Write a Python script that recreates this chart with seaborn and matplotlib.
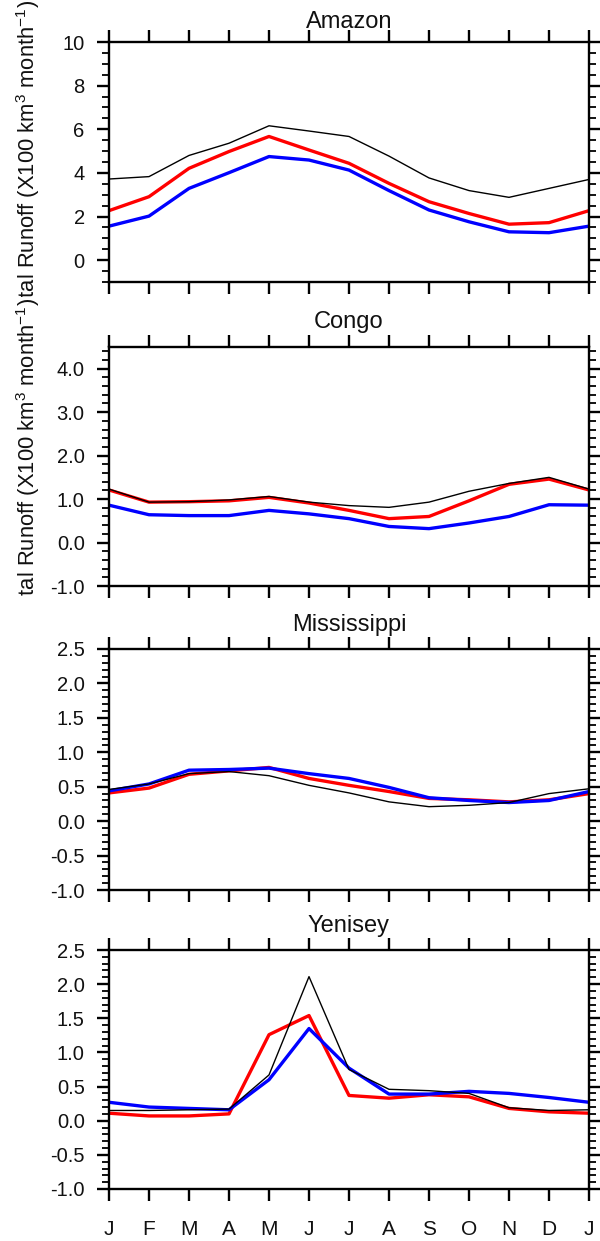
import numpy as np
import pandas as pd
import matplotlib
matplotlib.use("Agg")
import matplotlib.pyplot as plt
from matplotlib.transforms import Bbox, TransformedBbox
from matplotlib.ticker import MultipleLocator
import seaborn as sns

# ---------------- data ----------------
months = ["J", "F", "M", "A", "M", "J", "J", "A", "S", "O", "N", "D", "J"]
month_idx = list(range(13))

panel_titles = ["Amazon", "Congo", "Mississippi", "Yenisey"]

amazon_black = [3.72, 3.83, 4.80, 5.36, 6.16, 5.92, 5.67, 4.77, 3.77, 3.19, 2.88, 3.29, 3.70]
amazon_red   = [2.27, 2.91, 4.21, 4.98, 5.67, 5.05, 4.44, 3.52, 2.68, 2.14, 1.65, 1.72, 2.27]
amazon_blue  = [1.56, 2.02, 3.29, 4.01, 4.75, 4.59, 4.13, 3.19, 2.30, 1.76, 1.30, 1.26, 1.56]

congo_black = [1.23, 0.93, 0.94, 0.98, 1.06, 0.93, 0.85, 0.81, 0.93, 1.18, 1.36, 1.50, 1.23]
congo_red   = [1.21, 0.93, 0.94, 0.96, 1.04, 0.91, 0.74, 0.55, 0.60, 0.96, 1.34, 1.46, 1.21]
congo_blue  = [0.86, 0.64, 0.62, 0.62, 0.74, 0.66, 0.55, 0.37, 0.32, 0.45, 0.60, 0.87, 0.86]

miss_black = [0.46, 0.54, 0.69, 0.72, 0.66, 0.52, 0.41, 0.28, 0.21, 0.23, 0.27, 0.40, 0.47]
miss_red   = [0.41, 0.48, 0.68, 0.73, 0.78, 0.62, 0.52, 0.43, 0.33, 0.31, 0.28, 0.31, 0.40]
miss_blue  = [0.44, 0.54, 0.74, 0.75, 0.77, 0.69, 0.62, 0.49, 0.34, 0.30, 0.27, 0.30, 0.43]

yen_black = [0.15, 0.15, 0.16, 0.17, 0.67, 2.11, 0.75, 0.46, 0.44, 0.40, 0.19, 0.15, 0.16]
yen_red   = [0.11, 0.07, 0.07, 0.10, 1.26, 1.54, 0.37, 0.33, 0.38, 0.35, 0.18, 0.13, 0.11]
yen_blue  = [0.27, 0.20, 0.18, 0.16, 0.60, 1.35, 0.77, 0.39, 0.39, 0.43, 0.40, 0.34, 0.27]

series_names = ["red", "blue", "black"]   # drawing order
series_colors = {"red": "#ff0000", "blue": "#0000ff", "black": "#000000"}
series_widths = {"red": 2.4, "blue": 2.4, "black": 1.0}

panel_data = [
    {"red": amazon_red, "blue": amazon_blue, "black": amazon_black},
    {"red": congo_red, "blue": congo_blue, "black": congo_black},
    {"red": miss_red, "blue": miss_blue, "black": miss_black},
    {"red": yen_red, "blue": yen_blue, "black": yen_black},
]

amazon_yticks = [0, 2, 4, 6, 8, 10]
amazon_ylabels = ["0", "2", "4", "6", "8", "10"]
congo_yticks = [-1.0, 0.0, 1.0, 2.0, 3.0, 4.0]
congo_ylabels = ["-1.0", "0.0", "1.0", "2.0", "3.0", "4.0"]
small_yticks = [-1.0, -0.5, 0.0, 0.5, 1.0, 1.5, 2.0, 2.5]
small_ylabels = ["-1.0", "-0.5", "0.0", "0.5", "1.0", "1.5", "2.0", "2.5"]

panel_ylims = [(-1, 10), (-1, 4.5), (-1, 2.5), (-1, 2.5)]
panel_yticks = [amazon_yticks, congo_yticks, small_yticks, small_yticks]
panel_ylabels = [amazon_ylabels, congo_ylabels, small_ylabels, small_ylabels]
panel_minor = [0.5, 0.2, 0.1, 0.1]

ylabel_text = r"Total Runoff (X100 km$^{3}$ month$^{-1}$)"

# ---------------- style ----------------
sns.set_theme(style="ticks")
plt.rcParams["font.family"] = ["Liberation Sans", "DejaVu Sans"]
plt.rcParams["mathtext.fontset"] = "custom"
plt.rcParams["mathtext.rm"] = "Liberation Sans"
plt.rcParams["mathtext.it"] = "Liberation Sans"
plt.rcParams["mathtext.bf"] = "Liberation Sans"
plt.rcParams["axes.unicode_minus"] = False

W, H = 600, 1241
fig = plt.figure(figsize=(W / 100, H / 100), dpi=100)

# axes boxes in pixels: (top, bottom)
ax_left, ax_right = 109, 589
boxes = [(42, 282), (347, 586), (649, 890), (950, 1189)]
title_offsets = [10, 14, 13, 13]

axes = []
for i, (top, bot) in enumerate(boxes):
    ax = fig.add_axes([ax_left / W, 1 - bot / H, (ax_right - ax_left) / W, (bot - top) / H])
    rows = []
    for s in series_names:
        for m, v in zip(month_idx, panel_data[i][s]):
            rows.append({"month": m, "runoff": v, "series": s})
    df = pd.DataFrame(rows)
    sns.lineplot(data=df, x="month", y="runoff", hue="series", size="series",
                 hue_order=series_names, size_order=series_names,
                 palette=series_colors, sizes=series_widths,
                 estimator=None, sort=False, legend=False, ax=ax)
    ax.set_xlim(0, 12)
    ax.set_ylim(*panel_ylims[i])
    ax.set_xticks(month_idx)
    ax.set_xticklabels(months)
    ax.set_yticks(panel_yticks[i])
    ax.set_yticklabels(panel_ylabels[i])
    ax.yaxis.set_minor_locator(MultipleLocator(panel_minor[i]))
    ax.set_xlabel("")
    ax.set_ylabel("")
    for sp in ax.spines.values():
        sp.set_visible(True)
        sp.set_linewidth(1.7)
        sp.set_color("black")
    ax.tick_params(axis="both", which="major", direction="out", length=8.5, width=1.7,
                   color="black", labelsize=14.5, labelcolor="#111111")
    ax.tick_params(axis="x", which="major", top=True, bottom=True, pad=14,
                   labelbottom=(i == 3), labelsize=15)
    ax.tick_params(axis="y", which="major", left=True, right=True, pad=9)
    ax.tick_params(axis="y", which="minor", direction="out", left=True, right=True,
                   length=5, width=1.3, color="black")
    ax.tick_params(axis="x", which="minor", bottom=False, top=False)
    ax.annotate(panel_titles[i], xy=(0.5, 1.0), xycoords="axes fraction",
                xytext=(0, title_offsets[i]), textcoords="offset points",
                ha="center", va="baseline", fontsize=17, color="#111111")
    axes.append(ax)

# y-axis titles (partly cut off as in the reference)
label_tops = [0, 298]
label_clips = [297, 596]
for top_px, clip_px in zip(label_tops, label_clips):
    t = fig.text(28 / W, 1 - top_px / H, ylabel_text, rotation=90, ha="center", va="top",
                 fontsize=15.8, color="#111111")
    clip = TransformedBbox(Bbox([[0, 1 - clip_px / H], [1, 1 - top_px / H + 0.01]]), fig.transFigure)
    t.set_clip_box(clip)
    t.set_clip_on(True)

fig.savefig("out.png", dpi=100)
